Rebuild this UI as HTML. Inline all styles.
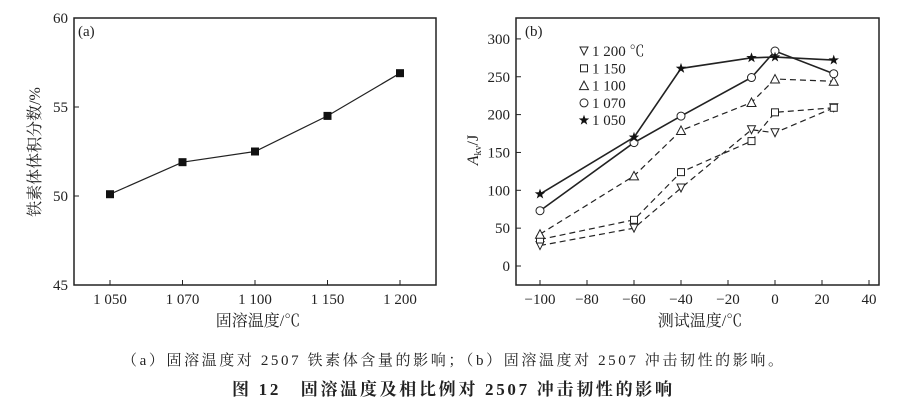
<!DOCTYPE html>
<html><head><meta charset="utf-8"><style>
body{margin:0;background:#fff;width:900px;height:409px;overflow:hidden}
svg{display:block}
text{font-family:"Liberation Serif","Noto Serif CJK SC",serif;fill:#222}
</style></head><body>
<svg id="s" width="900" height="409" xmlns="http://www.w3.org/2000/svg">
<text x="122" y="365" font-size="15" textLength="661" lengthAdjust="spacing">（a）固溶温度对 2507 铁素体含量的影响；（b）固溶温度对 2507 冲击韧性的影响。</text>
<text x="232" y="395" font-size="17" font-weight="bold" textLength="440" lengthAdjust="spacing">图 12　固溶温度及相比例对 2507 冲击韧性的影响</text>
</svg>
<script>
const ns="http://www.w3.org/2000/svg",S=document.getElementById('s');
function el(t,a,p){const e=document.createElementNS(ns,t);for(const k in a)e.setAttribute(k,a[k]);(p||S).appendChild(e);return e;}
// Chart A data
const catsA=["1 050","1 070","1 100","1 150","1 200"];
const valsA=[50.1,51.9,52.5,54.5,56.9];
const ticksA=[45,50,55,60];
// Chart B data
const xTicksB=[-100,-80,-60,-40,-20,0,20,40];
const yTicksB=[0,50,100,150,200,250,300];
const xB=[-100,-60,-40,-10,0,25];
const s1200=[27,50,103,180,176,209];
const s1150=[35,61,124,165,203,209];
const s1100=[42,119,179,216,247,244];
const s1070=[73,163,198,249,284,254];
const s1050=[95,170,261,275,276,272];
const labelsB=["1 200 ℃","1 150","1 100","1 070","1 050"];

// ---- Chart A
const gA=el('g',{});


const yA=v=>18+(60-v)*(267/15), xA=i=>110+i*72.5;
let r=el('rect',{x:74,y:18,width:362,height:267,fill:'none',stroke:'#222','stroke-width':1.5},gA);


ticksA.forEach(v=>{el('line',{x1:74,x2:79,y1:yA(v),y2:yA(v),stroke:'#222'},gA);
 const t=el('text',{x:68,y:yA(v)+5,'font-size':15,'text-anchor':'end'},gA);t.textContent=v;
 
 });
catsA.forEach((c,i)=>{el('line',{x1:xA(i),x2:xA(i),y1:285,y2:280,stroke:'#222'},gA);
 const t=el('text',{x:xA(i),y:304,'font-size':15,'text-anchor':'middle'},gA);t.textContent=c;
 
 });
let pl=el('polyline',{points:valsA.map((v,i)=>xA(i)+','+yA(v)).join(' '),fill:'none',stroke:'#222','stroke-width':1.2},gA);


valsA.forEach((v,i)=>{const m=el('rect',{x:xA(i)-4,y:yA(v)-4,width:8,height:8,fill:'#111'},gA);
 
 });
let t=el('text',{x:78,y:36,'font-size':15},gA);t.textContent='(a)';


t=el('text',{x:258,y:326,'font-size':16,'text-anchor':'middle'},gA);t.textContent='固溶温度/℃';


t=el('text',{x:0,y:0,'font-size':16,'text-anchor':'middle',transform:'translate(40,152) rotate(-90)'},gA);t.textContent='铁素体体积分数/%';



// ---- Chart B
const gB=el('g',{});


const xb=v=>540+(v+100)*2.35, yb=v=>266-v*0.757;
r=el('rect',{x:516,y:18,width:363,height:267,fill:'none',stroke:'#222','stroke-width':1.5},gB);


yTicksB.forEach(v=>{el('line',{x1:516,x2:521,y1:yb(v),y2:yb(v),stroke:'#222'},gB);
 const t=el('text',{x:510,y:yb(v)+5,'font-size':15,'text-anchor':'end'},gB);t.textContent=v;
 
 });
xTicksB.forEach(v=>{el('line',{x1:xb(v),x2:xb(v),y1:285,y2:280,stroke:'#222'},gB);
 const t=el('text',{x:xb(v),y:304,'font-size':15,'text-anchor':'middle'},gB);t.textContent=v<0?'−'+(-v):v;
 
 });
function marker(type,x,y,g){let m;
 if(type==='dn')m=el('polygon',{points:`${x-4},${y-4} ${x+4},${y-4} ${x},${y+4}`,fill:'#fff',stroke:'#222'},g);
 else if(type==='sq')m=el('rect',{x:x-3.5,y:y-3.5,width:7,height:7,fill:'#fff',stroke:'#222'},g);
 else if(type==='up')m=el('polygon',{points:`${x-4.5},${y+4} ${x+4.5},${y+4} ${x},${y-4.5}`,fill:'#fff',stroke:'#222'},g);
 else if(type==='ci')m=el('circle',{cx:x,cy:y,r:4,fill:'#fff',stroke:'#222'},g);
 else{const pts=[];for(let k=0;k<10;k++){const a=-Math.PI/2+k*Math.PI/5,rr=k%2?2.2:5.5;pts.push((x+rr*Math.cos(a))+','+(y+rr*Math.sin(a)));}
  m=el('polygon',{points:pts.join(' '),fill:'#111'},g);}
 
 }
const series=[[s1200,'dn',true,'series-1200'],[s1150,'sq',true,'series-1150'],[s1100,'up',true,'series-1100'],[s1070,'ci',false,'series-1070'],[s1050,'st',false,'series-1050']];
series.forEach(([d,mk,dash,nm])=>{
 const l=el('polyline',{points:d.map((v,i)=>xb(xB[i])+','+yb(v)).join(' '),fill:'none',stroke:'#222','stroke-width':dash?1.2:1.6,'stroke-dasharray':dash?'6,4':'none'},gB);
 
 
 d.forEach((v,i)=>marker(mk,xb(xB[i]),yb(v),gB));});
// legend
series.forEach(([d,mk],i)=>{const y=51+i*17.3;marker(mk,584,y,gB);
 const t=el('text',{x:592,y:y+5,'font-size':15},gB);t.textContent=labelsB[i];
 
 });
t=el('text',{x:525,y:36,'font-size':15},gB);t.textContent='(b)';


t=el('text',{x:700,y:326,'font-size':16,'text-anchor':'middle'},gB);t.textContent='测试温度/℃';


t=el('text',{x:0,y:0,'font-size':16,'text-anchor':'middle',transform:'translate(478,150) rotate(-90)'},gB);
t.innerHTML='<tspan font-style="italic">A</tspan><tspan font-size="10" dy="3">kv</tspan><tspan dy="-3">/J</tspan>';


</script>
</body></html>
